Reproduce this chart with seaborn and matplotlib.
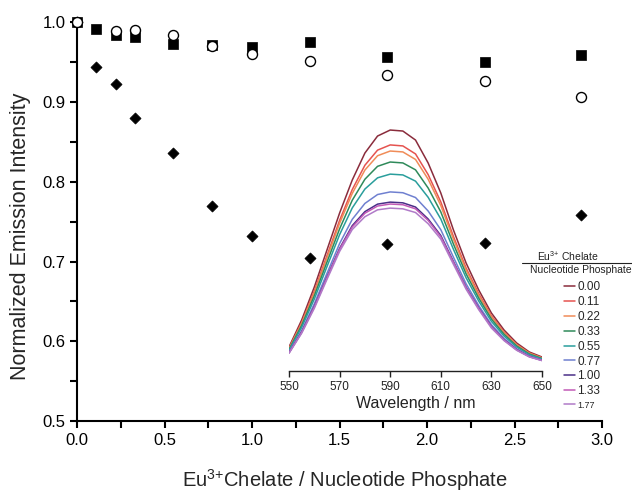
import matplotlib
matplotlib.use("Agg")
import matplotlib.pyplot as plt
from matplotlib.ticker import MultipleLocator
from matplotlib.lines import Line2D
import seaborn as sns
import pandas as pd

# main plot: normalized emission vs ratio
x_sq = [0.00, 0.11, 0.22, 0.33, 0.55, 0.77, 1.00, 1.33, 1.77, 2.33, 2.88]
y_sq = [1.000, 0.991, 0.984, 0.982, 0.972, 0.971, 0.969, 0.975, 0.956, 0.950, 0.959]

x_ci = [0.00, 0.22, 0.33, 0.55, 0.77, 1.00, 1.33, 1.77, 2.33, 2.88]
y_ci = [1.000, 0.989, 0.990, 0.984, 0.970, 0.960, 0.951, 0.934, 0.926, 0.906]

x_di = [0.00, 0.11, 0.22, 0.33, 0.55, 0.77, 1.00, 1.33, 1.77, 2.33, 2.88]
y_di = [1.000, 0.944, 0.922, 0.880, 0.836, 0.769, 0.732, 0.704, 0.722, 0.723, 0.758]

# inset: emission spectra (arbitrary units)
wavelength = [550, 555, 560, 565, 570, 575, 580, 585, 590, 595, 600,
              605, 610, 615, 620, 625, 630, 635, 640, 645, 650]
ratios = ["0.00", "0.11", "0.22", "0.33", "0.55", "0.77", "1.00", "1.33", "1.77"]
spec_000 = [24, 51, 84, 121, 158, 191, 218, 235, 241, 240, 231, 208, 178, 141, 108, 81, 58, 41, 28, 19, 14]
spec_011 = [22.8, 48.5, 80.0, 115.4, 150.7, 181.5, 205.8, 220.9, 226.1, 225.1, 217.1, 196.4, 169.1, 134.5, 103.0, 77.3, 55.2, 39.0, 26.6, 18.1, 13.3]
spec_022 = [22.3, 47.4, 78.3, 113.1, 147.7, 177.6, 201.0, 215.3, 220.0, 219.1, 211.6, 191.8, 165.5, 131.8, 101.0, 75.7, 54.1, 38.1, 26.0, 17.7, 13.0]
spec_033 = [21.5, 45.6, 75.3, 108.9, 142.2, 170.8, 191.8, 204.7, 209.0, 208.1, 201.2, 183.0, 159.1, 126.9, 97.2, 72.9, 52.0, 36.7, 25.0, 17.0, 12.5]
spec_055 = [20.5, 43.6, 72.0, 104.4, 136.4, 163.1, 182.0, 193.2, 196.9, 196.1, 189.9, 173.7, 152.0, 121.7, 93.2, 69.9, 49.7, 35.0, 23.9, 16.2, 12.0]
spec_077 = [19.1, 40.5, 67.2, 97.6, 127.5, 151.7, 167.6, 176.5, 179.1, 178.3, 173.5, 160.0, 141.3, 113.8, 87.2, 65.4, 46.4, 32.6, 22.2, 15.1, 11.1]
spec_100 = [18.3, 38.8, 64.4, 93.9, 122.6, 145.4, 159.4, 166.9, 168.9, 168.2, 164.0, 152.0, 135.5, 109.4, 83.8, 62.9, 44.5, 31.2, 21.3, 14.5, 10.7]
spec_133 = [18.1, 38.5, 63.9, 93.2, 121.7, 144.0, 157.8, 165.0, 167.0, 166.3, 162.2, 150.6, 134.2, 108.6, 83.2, 62.4, 44.1, 30.9, 21.1, 14.3, 10.6]
spec_177 = [17.8, 37.8, 62.7, 91.6, 119.6, 141.5, 154.3, 161.2, 162.9, 162.2, 158.5, 147.3, 131.9, 106.7, 81.8, 61.3, 43.0, 30.4, 20.7, 14.1, 10.4]
spectra = [spec_000, spec_011, spec_022, spec_033, spec_055, spec_077, spec_100, spec_133, spec_177]
colors = ["#8a2c3c", "#e5534f", "#f08c58", "#2f8a5a", "#2a9e9c",
          "#6f80d0", "#4a2f88", "#c25ab6", "#b07ac8"]

sns.set_style("ticks")
plt.rcParams["font.family"] = ["Liberation Sans", "DejaVu Sans"]
plt.rcParams["mathtext.fontset"] = "custom"
plt.rcParams["mathtext.rm"] = "Liberation Sans"
plt.rcParams["mathtext.it"] = "Liberation Sans:italic"
plt.rcParams["mathtext.bf"] = "Liberation Sans:bold"

fig = plt.figure(figsize=(6.32, 4.92), dpi=100)
ax = fig.add_axes([0.122, 0.144, 0.8305, 0.811])

sns.scatterplot(x=x_di, y=y_di, marker="D", s=32, color="black", edgecolor="black",
                linewidth=0.5, ax=ax, clip_on=False, zorder=3)
sns.scatterplot(x=x_sq, y=y_sq, marker="s", s=52, color="black", edgecolor="black",
                linewidth=0.5, ax=ax, clip_on=False, zorder=4)
sns.scatterplot(x=x_ci, y=y_ci, marker="o", s=52, facecolor="white", edgecolor="black",
                linewidth=1.0, ax=ax, clip_on=False, zorder=5)

ax.set_xlim(0, 3.0)
ax.set_ylim(0.5, 1.0)
ax.xaxis.set_major_locator(MultipleLocator(0.5))
ax.xaxis.set_minor_locator(MultipleLocator(0.25))
ax.yaxis.set_major_locator(MultipleLocator(0.1))
ax.yaxis.set_minor_locator(MultipleLocator(0.05))
ax.tick_params(which="both", direction="out", length=5, width=1.5, labelsize=12, colors="black")
for s in ["left", "bottom"]:
    ax.spines[s].set_linewidth(1.5)
    ax.spines[s].set_color("black")
sns.despine(ax=ax)
ax.set_xlabel("Eu$^{3{+}}$Chelate / Nucleotide Phosphate", fontsize=14.5)
ax.set_ylabel("Normalized Emission Intensity", fontsize=15.5)
ax.xaxis.set_label_coords(0.51, -0.116)
ax.yaxis.set_label_coords(-0.088, 0.464)

# inset spectra
axi = fig.add_axes([0.4573, 0.2459, 0.4003, 0.5081])
axi.set_facecolor("none")
for r, sp, c in zip(ratios, spectra, colors):
    df = pd.DataFrame({"wl": wavelength, "I": sp})
    sns.lineplot(data=df, x="wl", y="I", color=c, linewidth=1.1, ax=axi, label=r, legend=False)
axi.set_xlim(550, 650)
axi.set_ylim(0, 250)
axi.set_xticks([550, 570, 590, 610, 630, 650])
axi.set_yticks([])
axi.tick_params(axis="x", direction="out", length=4, width=1, labelsize=8.5, colors="#222222")
for s in ["left", "right", "top"]:
    axi.spines[s].set_visible(False)
axi.spines["bottom"].set_linewidth(1.0)
axi.spines["bottom"].set_color("#222222")
axi.set_xlabel("Wavelength / nm", fontsize=11.5, labelpad=2, color="#222222")
axi.set_ylabel("")

# legend with fraction-style title
fig.text(0.899, 0.480, "Eu$^{3{+}}$ Chelate", fontsize=7.5, ha="center", va="center", color="#222222")
fig.add_artist(Line2D([0.826, 1.0], [0.4654, 0.4654], color="#222222", linewidth=0.8,
                      transform=fig.transFigure))
fig.text(0.919, 0.451, "Nucleotide Phosphate", fontsize=7.5, ha="center", va="center", color="#222222")

handles = [Line2D([0], [0], color=c, linewidth=1.1) for c in colors]
leg = fig.legend(handles, ratios, loc="upper left", bbox_to_anchor=(0.893, 0.428),
                 frameon=False, fontsize=8.5, handlelength=0.9, handletextpad=0.2,
                 labelspacing=0.24, borderpad=0, borderaxespad=0)
leg.get_texts()[-1].set_fontsize(6.5)

fig.savefig("out.png", dpi=100)
